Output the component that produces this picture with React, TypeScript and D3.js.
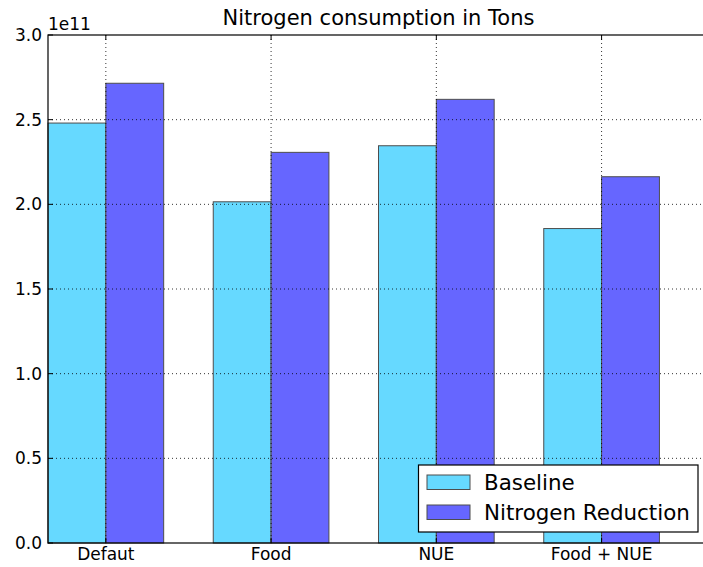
import * as d3 from 'd3';

const categories = ['Defaut', 'Food', 'NUE', 'Food + NUE'];
const baseline = [2.48e11, 2.015e11, 2.346e11, 1.857e11];
const reduction = [2.715e11, 2.307e11, 2.62e11, 2.163e11];
const yTicks = [0, 0.5e11, 1.0e11, 1.5e11, 2.0e11, 2.5e11, 3.0e11];
const seriesNames = ['Baseline', 'Nitrogen Reduction'];

const W = 703;
const H = 567;
const left = 48;
const right = 709;
const top = 35;
const bottom = 543;
const barW = 0.35;
const colors = ['#66D9FF', '#6666FF'];
const edge = '#4d4d4d';
const font = 'DejaVu Sans, sans-serif';

const App = () => {
  const x = d3.scaleLinear().domain([0, 4]).range([left, right]);
  const y = d3.scaleLinear().domain([0, 3e11]).range([bottom, top]);
  const tickLen = 5;

  return (
    <svg
      width={W}
      height={H}
      style={{ position: 'absolute', left: 0, top: 0, background: '#fff' }}
      fontFamily={font}
    >
      {/* bars */}
      {[baseline, reduction].map((vals, s) =>
        vals.map((v, i) => (
          <rect
            key={`${s}-${i}`}
            x={x(i + s * barW)}
            y={y(v)}
            width={x(i + (s + 1) * barW) - x(i + s * barW)}
            height={y(0) - y(v)}
            fill={colors[s]}
            stroke={edge}
            strokeWidth={1}
          />
        ))
      )}

      {/* grid */}
      {yTicks.slice(1, -1).map((t) => (
        <line key={'gy' + t} x1={left} x2={right} y1={y(t)} y2={y(t)}
          stroke="#000" strokeWidth={0.8} strokeDasharray="1,3" />
      ))}
      {categories.map((c, i) => (
        <line key={'gx' + c} x1={x(i + barW)} x2={x(i + barW)} y1={top} y2={bottom}
          stroke="#000" strokeWidth={0.8} strokeDasharray="1,3" />
      ))}

      {/* spines */}
      <rect x={left} y={top} width={right - left} height={bottom - top}
        fill="none" stroke="#000" strokeWidth={1.2} />

      {/* ticks */}
      {yTicks.map((t) => (
        <g key={'ty' + t}>
          <line x1={left} x2={left + tickLen} y1={y(t)} y2={y(t)} stroke="#000" />
          <line x1={right} x2={right - tickLen} y1={y(t)} y2={y(t)} stroke="#000" />
          <text x={left - 6} y={y(t)} dy="0.36em" textAnchor="end" fontSize={17} fill="#000">
            {(t / 1e11).toFixed(1)}
          </text>
        </g>
      ))}
      {categories.map((c, i) => (
        <g key={'tx' + c}>
          <line x1={x(i + barW)} x2={x(i + barW)} y1={bottom} y2={bottom - tickLen} stroke="#000" />
          <line x1={x(i + barW)} x2={x(i + barW)} y1={top} y2={top + tickLen} stroke="#000" />
          <text x={x(i + barW)} y={560} textAnchor="middle" fontSize={17} fill="#000">
            {c}
          </text>
        </g>
      ))}
      <text x={left} y={30} fontSize={17} fill="#000">1e11</text>

      {/* title */}
      <text x={(left + right) / 2} y={25} textAnchor="middle" fontSize={21} fill="#000">
        Nitrogen consumption in Tons
      </text>

      {/* legend */}
      <rect x={418.5} y={465} width={279.5} height={67} fill="#fff" stroke="#000" strokeWidth={1.2} />
      {seriesNames.map((n, s) => (
        <g key={n}>
          <rect x={427} y={475 + s * 30} width={43} height={14.5} fill={colors[s]} stroke={edge} />
          <text x={484} y={482 + s * 30} dy="0.36em" fontSize={21.4} fill="#000">{n}</text>
        </g>
      ))}
    </svg>
  );
};

export default App;
